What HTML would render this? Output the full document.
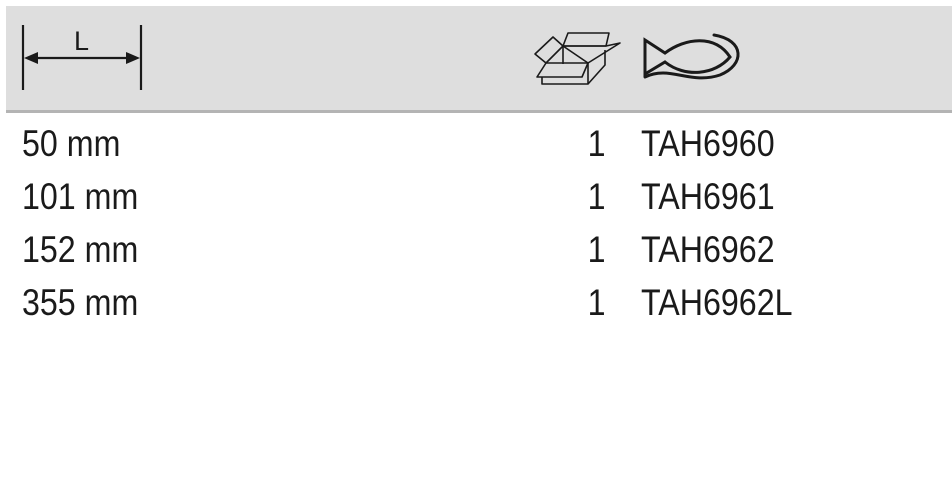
<!DOCTYPE html>
<html><head><meta charset="utf-8"><style>
body{margin:0;width:952px;height:501px;background:#fff;position:relative;overflow:hidden;font-family:"Liberation Sans",sans-serif;color:#1a1a1a}
.hdr{position:absolute;left:6px;top:6px;width:946px;height:104px;background:#dedede;border-bottom:3px solid #b4b4b4}
.t{position:absolute;font-size:37px;line-height:37px;transform:scaleX(0.87);transform-origin:left top;white-space:nowrap}
.r{transform-origin:right top;text-align:right}
</style></head><body>
<div class="hdr"></div>
<svg width="952" height="120" style="position:absolute;left:0;top:0">
<g stroke="#1a1a1a" fill="none" stroke-width="2.2">
<line x1="23" y1="25" x2="23" y2="90"/><line x1="141" y1="25" x2="141" y2="90"/>
<line x1="34" y1="58" x2="130" y2="58"/>
</g>
<polygon points="24,58 38,52 38,64" fill="#1a1a1a"/><polygon points="140,58 126,52 126,64" fill="#1a1a1a"/>
<text x="74" y="50" font-size="27" font-family="Liberation Sans" fill="#1a1a1a">L</text>
<g stroke="#1a1a1a" fill="none" stroke-width="1.6" stroke-linejoin="round">
<polygon points="568,33 609,33 606,46 563,46"/>
<line x1="563" y1="46" x2="563" y2="64"/>
<polygon points="563,46 606,46 620,43 588,63"/>
<polygon points="553,37 563,46 546,63 535,54"/>
<polygon points="546,63 588,63 582,77 537,77"/>
<polyline points="542,77 542,84 588,84 605,65 605,50"/>
<line x1="588" y1="63" x2="588" y2="84"/>
</g>
<g stroke="#1a1a1a" fill="none" stroke-width="3" stroke-linecap="round">
<path d="M645,40 L665,53 C685,38 715,34 730,57 C715,75 685,78 665,62 L645,74 Z"/>
<path d="M645,77 C670,65 690,85 720,75 C745,65 745,40 714,35"/>
</g>
</svg>
<div class="t" style="left:22px;top:125px">50 mm</div>
<div class="t" style="left:22px;top:178px">101 mm</div>
<div class="t" style="left:22px;top:231px">152 mm</div>
<div class="t" style="left:22px;top:284px">355 mm</div>
<div class="t r" style="right:346px;top:125px">1</div>
<div class="t r" style="right:346px;top:178px">1</div>
<div class="t r" style="right:346px;top:231px">1</div>
<div class="t r" style="right:346px;top:284px">1</div>
<div class="t" style="left:641px;top:125px">TAH6960</div>
<div class="t" style="left:641px;top:178px">TAH6961</div>
<div class="t" style="left:641px;top:231px">TAH6962</div>
<div class="t" style="left:641px;top:284px">TAH6962L</div>
</body></html>
